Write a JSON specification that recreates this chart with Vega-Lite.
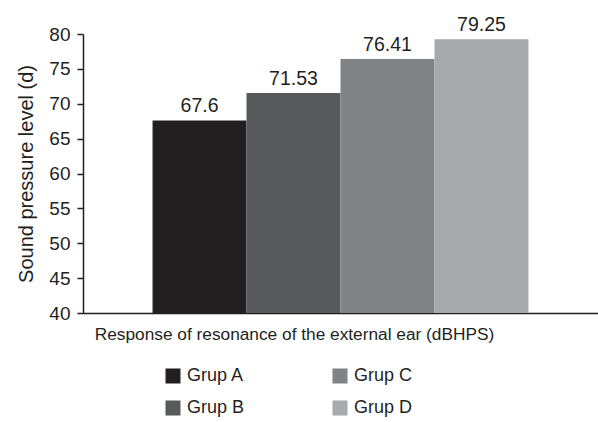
{
  "$schema": "https://vega.github.io/schema/vega-lite/v6.json",
  "width": 515,
  "height": 279,
  "autosize": "none",
  "padding": {"left": 83, "top": 34, "right": 0, "bottom": 109},
  "background": "white",
  "data": {"values": [
    {"group": "Grup A", "value": 67.6},
    {"group": "Grup B", "value": 71.53},
    {"group": "Grup C", "value": 76.41},
    {"group": "Grup D", "value": 79.25}
  ]},
  "config": {
    "font": "Liberation Sans",
    "view": {"stroke": null},
    "axis": {"labelColor": "#231f20", "titleColor": "#231f20", "domainColor": "#231f20", "tickColor": "#231f20", "grid": false}
  },
  "encoding": {
    "x": {
      "field": "group", "type": "nominal", "sort": ["Grup A", "Grup B", "Grup C", "Grup D"],
      "scale": {"paddingInner": 0, "paddingOuter": 0.74},
      "axis": {"labels": false, "ticks": false, "title": "Response of resonance of the external ear (dBHPS)", "titleFontSize": 17.3, "titleFontWeight": "normal", "titlePadding": 12, "titleX": 211, "titleAlign": "center", "domainWidth": 1.5}
    },
    "y": {
      "field": "value", "type": "quantitative",
      "scale": {"domain": [40, 80], "nice": false, "zero": false},
      "axis": {"values": [40, 45, 50, 55, 60, 65, 70, 75, 80], "title": "Sound pressure level (d)", "titleFontSize": 20, "titleFontWeight": "normal", "titlePadding": 12, "labelFontSize": 19, "tickSize": 6, "labelPadding": 7, "domainWidth": 1.5, "tickWidth": 1.5}
    }
  },
  "layer": [
    {
      "mark": {"type": "bar", "clip": true},
      "encoding": {
        "color": {
          "field": "group", "type": "nominal",
          "scale": {"domain": ["Grup A", "Grup B", "Grup C", "Grup D"], "range": ["#231f20", "#58595b", "#808285", "#a7a9ac"]},
          "legend": {
            "orient": "none", "legendX": 81, "legendY": 333, "title": null,
            "columns": 2, "symbolType": "square", "symbolSize": 225, "symbolStrokeWidth": 0,
            "labelFontSize": 18, "labelColor": "#231f20", "labelOffset": 5,
            "columnPadding": 86, "rowPadding": 14
          }
        }
      }
    },
    {
      "mark": {"type": "text", "baseline": "alphabetic", "dy": -8, "fontSize": 19.5, "color": "#231f20"},
      "encoding": {"text": {"field": "value", "type": "quantitative"}}
    }
  ]
}
